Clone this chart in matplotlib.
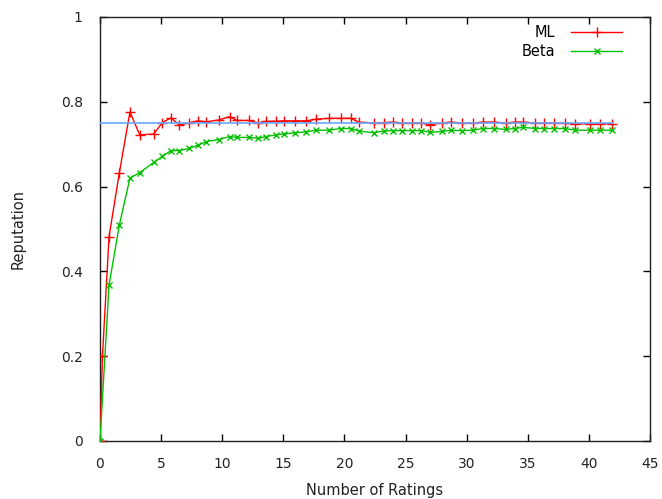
import matplotlib
matplotlib.use("Agg")
import matplotlib.pyplot as plt

x_ml = [0, 0.2, 0.74, 1.58, 2.45, 3.25, 4.4, 5.1, 5.8, 6.5, 7.3, 8.05, 8.7, 9.7, 10.6, 11.2,
        12.2, 12.95, 13.6, 14.4, 15.06, 15.96, 16.86, 17.67, 18.76, 19.7, 20.5, 21.2, 22.4,
        23.2, 24.0, 24.7, 25.5, 26.3, 27.0, 27.95, 28.7, 29.6, 30.55, 31.3, 32.2, 33.2, 33.95,
        34.6, 35.6, 36.35, 37.15, 38.05, 38.9, 40.1, 40.9, 41.9]
ml = [0, 0.2, 0.482, 0.632, 0.776, 0.722, 0.724, 0.751, 0.762, 0.745, 0.751, 0.755, 0.753,
      0.757, 0.765, 0.756, 0.756, 0.750, 0.754, 0.754, 0.755, 0.755, 0.755, 0.759, 0.761,
      0.761, 0.761, 0.752, 0.750, 0.751, 0.752, 0.750, 0.750, 0.750, 0.746, 0.750, 0.752,
      0.750, 0.750, 0.752, 0.752, 0.750, 0.752, 0.752, 0.750, 0.750, 0.750, 0.749, 0.748,
      0.748, 0.748, 0.748]

x_beta = [0, 0.74, 1.58, 2.45, 3.25, 4.4, 5.1, 5.8, 6.5, 7.3, 8.05, 8.7, 9.7, 10.6, 11.2,
          12.2, 12.95, 13.6, 14.4, 15.06, 15.96, 16.86, 17.67, 18.76, 19.7, 20.5, 21.2, 22.4,
          23.2, 24.0, 24.7, 25.5, 26.3, 27.0, 27.95, 28.7, 29.6, 30.55, 31.3, 32.2, 33.2, 33.95,
          34.6, 35.6, 36.35, 37.15, 38.05, 38.9, 40.1, 40.9, 41.9]
beta = [0, 0.368, 0.509, 0.620, 0.633, 0.657, 0.671, 0.685, 0.685, 0.690, 0.698, 0.706,
        0.711, 0.718, 0.716, 0.716, 0.714, 0.718, 0.722, 0.724, 0.727, 0.729, 0.733, 0.733,
        0.737, 0.737, 0.731, 0.727, 0.731, 0.732, 0.732, 0.732, 0.732, 0.728, 0.730, 0.733,
        0.732, 0.733, 0.737, 0.737, 0.735, 0.737, 0.740, 0.737, 0.737, 0.737, 0.737, 0.733,
        0.733, 0.733, 0.733]

true_x = [0, 42]
true_value = [0.75, 0.75]

xticks = [0, 5, 10, 15, 20, 25, 30, 35, 40, 45]
yticks = [0, 0.2, 0.4, 0.6, 0.8, 1]
ytick_labels = ["0", "0.2", "0.4", "0.6", "0.8", "1"]

plt.rcParams['font.family'] = ['DejaVu Sans']
fig = plt.figure(figsize=(6.62, 4.99), dpi=100)
ax = fig.add_axes([100/662, 1 - 441/499, 550/662, 424/499])

ax.plot(x_ml, ml, color='#ff0000', lw=1.0, marker='+', ms=7, mew=1.0, label='ML', zorder=3)
ax.plot(x_beta, beta, color='#00c000', lw=1.0, marker='x', ms=5, mew=1.0, label='Beta', zorder=3)
ax.plot(true_x, true_value, color='#66aaff', lw=1.2, zorder=4)

ax.set_xlim(0, 45)
ax.set_ylim(0, 1)
ax.set_xticks(xticks)
ax.set_yticks(yticks)
ax.set_yticklabels(ytick_labels)
ax.tick_params(direction='in', length=5, width=1, top=True, right=True, labelsize=10,
               labelcolor='#222222')
ax.tick_params(axis='y', pad=12.5)
ax.tick_params(axis='x', pad=11.5)
for s in ax.spines.values():
    s.set_linewidth(1)
    s.set_color('#202020')

ax.set_xlabel('Number of Ratings', fontsize=10.5, labelpad=9, color='#222222')
ax.set_ylabel('Reputation', fontsize=10.5, labelpad=25, color='#222222')

leg = ax.legend(loc='upper right', bbox_to_anchor=(528/550, 0.995), frameon=False,
                markerfirst=False, fontsize=10.5,
                handlelength=3.5, handletextpad=1.1, labelspacing=0.3, borderaxespad=0.0)

fig.savefig('out.png', dpi=100)
